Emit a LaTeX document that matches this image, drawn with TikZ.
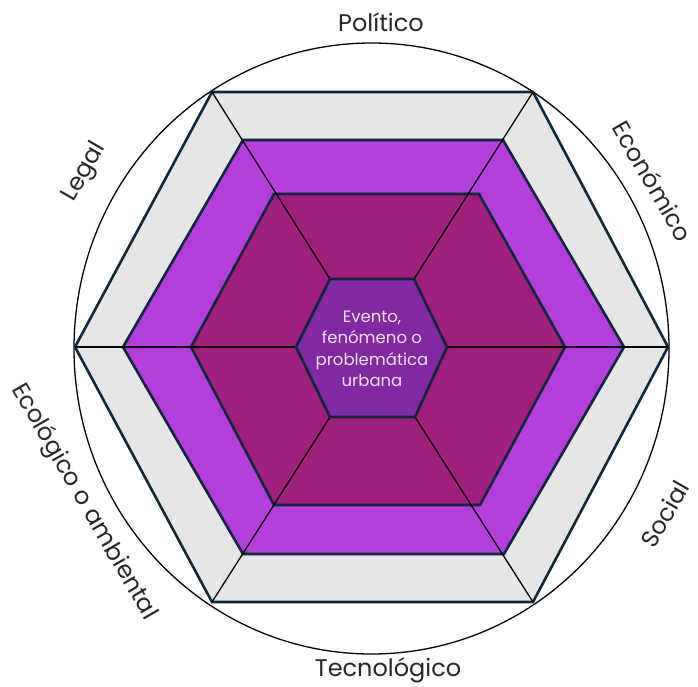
\documentclass[tikz,border=0pt]{standalone}
\usepackage{fontspec}
\setmainfont{Poppins}
\usepackage{xcolor}
\usetikzlibrary{calc}
\usetikzlibrary{positioning}

\definecolor{ringgray}{HTML}{E6E6E6}
\definecolor{ringviolet}{HTML}{B33EDC}
\definecolor{ringmagenta}{HTML}{A01E7C}
\definecolor{corepurple}{HTML}{7F2AA2}
\definecolor{edgenavy}{HTML}{0E2838}
\definecolor{coretext}{HTML}{F2E4F2}

\begin{document}
\begin{tikzpicture}[x=1pt,y=-1pt]
% 1 unit = 1 pixel of the sketch, y runs down
    \def\CX{371.5}
    \def\CY{348.5}
    \def\RX{297.5} %circle, horizontal
    \def\RY{305.5} %circle, vertical

    \tikzset{
      ring/.style={draw=edgenavy, line width=2.6pt},
      spoke/.style={black, line width=1.3pt},
      dimension/.style={font=\fontsize{24}{28}\selectfont, text=black!85,
        inner sep=1pt},
    }

    \useasboundingbox (0,0) rectangle (698,686);

    % OUTER CIRCLE
    \draw[line width=1.3pt] (\CX,\CY) ellipse ({\RX} and {\RY});

    % GRAY RING
    \draw[ring, fill=ringgray]
        (75,347) coordinate (O1) -- (212,92) coordinate (O2) --
        (533,92) coordinate (O3) -- (668,347) coordinate (O4) --
        (533,602) coordinate (O5) -- (212,602) coordinate (O6) -- cycle;

    % VIOLET RING
    \draw[ring, fill=ringviolet]
        (123,347) -- (243,140) -- (503,140) --
        (624,347) -- (504,554) -- (243,554) -- cycle;

    % MAGENTA RING
    \draw[ring, fill=ringmagenta]
        (191,347) -- (274,194) -- (479,194) --
        (565,347) -- (480,505) -- (274,505) -- cycle;

    % CORE corners
    \coordinate (C1) at (296,347);
    \coordinate (C2) at (330,279);
    \coordinate (C3) at (414,279);
    \coordinate (C4) at (447,347);
    \coordinate (C5) at (415,417);
    \coordinate (C6) at (330,417);

    % SPOKES
    \foreach \i in {1,...,6}
        \draw[spoke] (C\i) -- (O\i);

    % CORE HEXAGON
    \draw[ring, fill=corepurple]
        (C1) -- (C2) -- (C3) -- (C4) -- (C5) -- (C6) -- cycle;
    \node[text=coretext, align=center,
          font=\fontsize{16.5}{21.5}\selectfont] (event) at (372,349) {
        Evento,\\fenómeno o\\problemática\\urbana
    };

    % DIMENSIONS round the circle
    \node[dimension] (politico) at (381,22) {Político};
    \node[dimension, rotate=-60] (economico) at (653,181) {Económico};
    \node[dimension, rotate=60] (social) at (665,514) {Social};
    \node[dimension] (tecnologico) at (388,670) {Tecnológico};
    \node[dimension, rotate=-60] (ecologico) at (84,502) {Ecológico o ambiental};
    \node[dimension, rotate=60] (legal) at (85,172) {Legal};

\end{tikzpicture}
\end{document}
